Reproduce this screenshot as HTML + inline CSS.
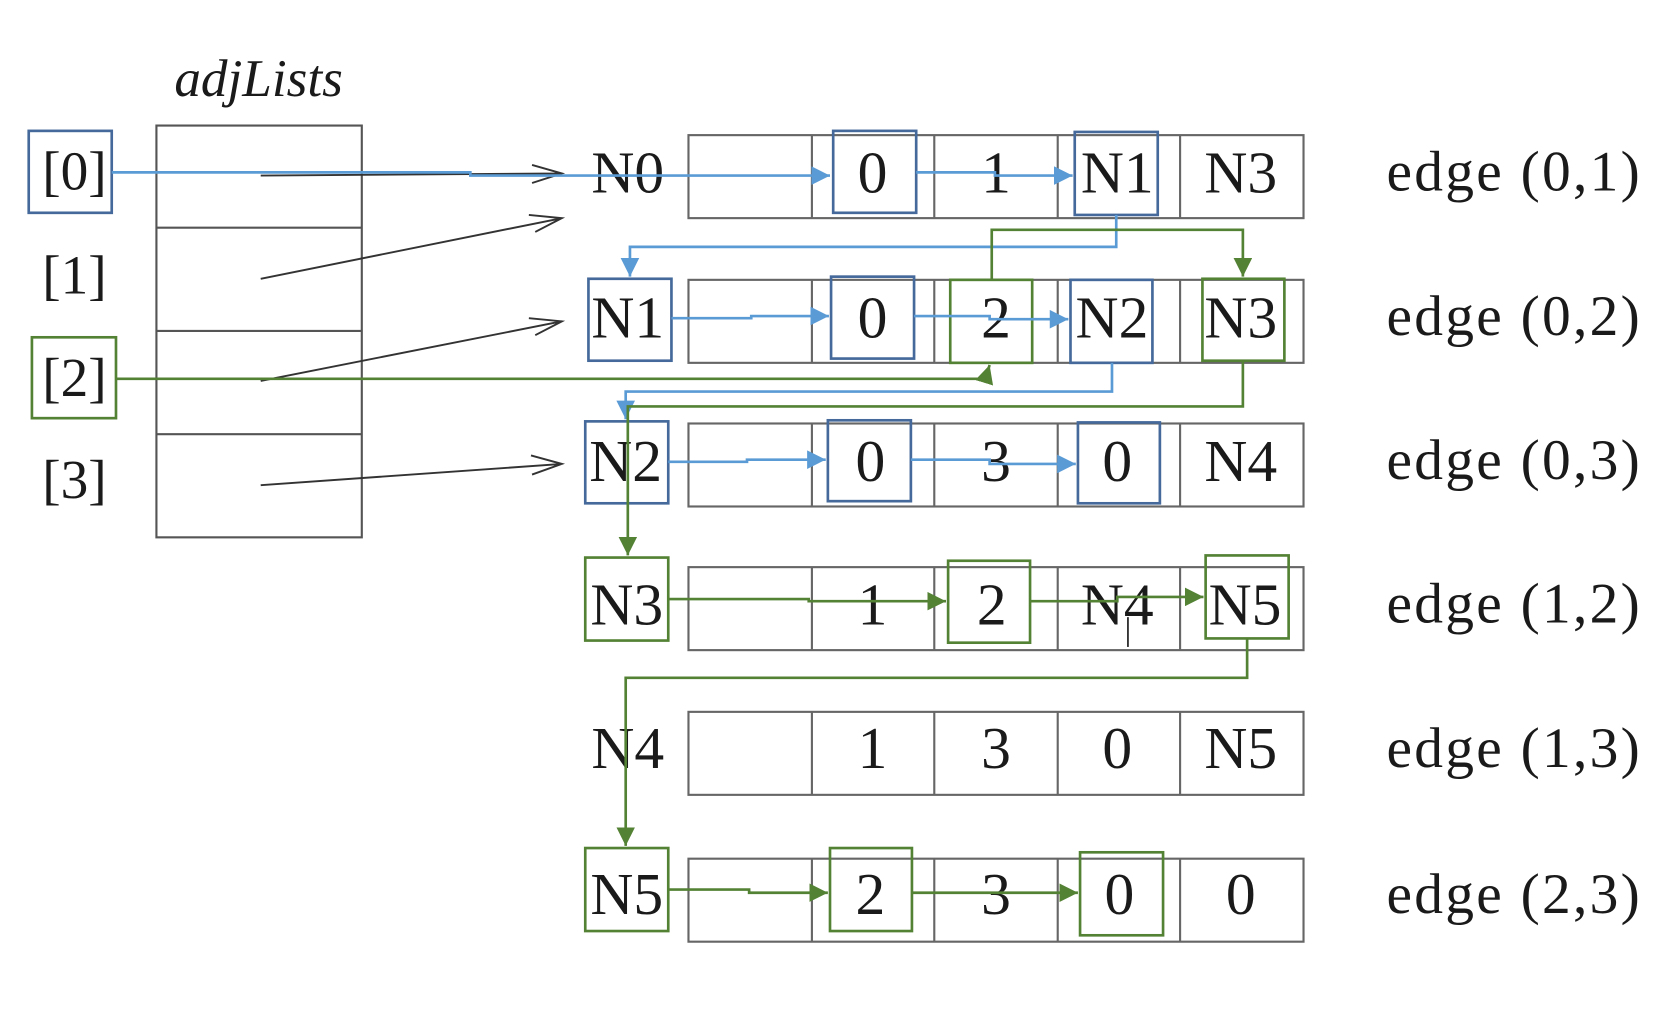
<!DOCTYPE html>
<html><head><meta charset="utf-8"><style>
html,body{margin:0;padding:0;background:#fff;width:1660px;height:1030px;overflow:hidden}
svg text{font-family:"Liberation Serif",serif;fill:#1a1a1a}
</style></head><body>
<svg width="1660" height="1030" viewBox="0 0 1560 968" preserveAspectRatio="none" xmlns="http://www.w3.org/2000/svg">
<defs>
<marker id="ab" viewBox="0 0 10 10" refX="10" refY="5" markerWidth="7" markerHeight="7" orient="auto"><path d="M0,0L10,5L0,10z" fill="#5b9bd5"/></marker>
<marker id="ag" viewBox="0 0 10 10" refX="10" refY="5" markerWidth="7" markerHeight="7" orient="auto"><path d="M0,0L10,5L0,10z" fill="#548235"/></marker>
<g id="t"><rect x="647" y="0" width="578" height="78"/><line x1="763" y1="0" x2="763" y2="78"/><line x1="878" y1="0" x2="878" y2="78"/><line x1="994" y1="0" x2="994" y2="78"/><line x1="1109" y1="0" x2="1109" y2="78"/></g>
</defs>
<text x="243" y="90" font-size="50" font-style="italic" text-anchor="middle">adjLists</text>
<g fill="none" stroke="#555" stroke-width="2">
<rect x="147" y="118" width="193" height="387"/>
<line x1="147" y1="214" x2="340" y2="214"/><line x1="147" y1="311" x2="340" y2="311"/><line x1="147" y1="408" x2="340" y2="408"/>
</g>
<g font-size="52" text-anchor="middle">
<text x="70" y="178">[0]</text><text x="70" y="276">[1]</text><text x="70" y="372">[2]</text><text x="70" y="468">[3]</text>
</g>
<g fill="none" stroke="#333" stroke-width="1.8">
<path d="M245,165L528,163M500,155L528,163L500,172"/>
<path d="M245,262L528,205M497,202L528,205L503,218"/>
<path d="M245,358L528,302M497,299L528,302L503,315"/>
<path d="M245,456L528,436M499,428L528,436L500,446"/>
</g>
<g fill="none" stroke="#666" stroke-width="2">
<use href="#t" y="127"/><use href="#t" y="263"/><use href="#t" y="398"/><use href="#t" y="533"/><use href="#t" y="669"/><use href="#t" y="807"/>
</g>
<g font-size="56" text-anchor="middle">
<text x="590" y="181">N0</text><text x="820" y="181">0</text><text x="936" y="181">1</text><text x="1050" y="181">N1</text><text x="1166" y="181">N3</text>
<text x="590" y="317">N1</text><text x="820" y="317">0</text><text x="936" y="317">2</text><text x="1045" y="317">N2</text><text x="1166" y="317">N3</text>
<text x="588" y="452">N2</text><text x="818" y="452">0</text><text x="936" y="452">3</text><text x="1050" y="452">0</text><text x="1166" y="452">N4</text>
<text x="589" y="587">N3</text><text x="820" y="587">1</text><text x="932" y="587">2</text><text x="1050" y="587">N4</text><text x="1170" y="587">N5</text>
<text x="590" y="722">N4</text><text x="820" y="722">1</text><text x="936" y="722">3</text><text x="1050" y="722">0</text><text x="1166" y="722">N5</text>
<text x="589" y="859">N5</text><text x="818" y="859">2</text><text x="936" y="859">3</text><text x="1052" y="859">0</text><text x="1166" y="859">0</text>
</g>
<g font-size="54">
<text x="1303" y="179" textLength="238">edge (0,1)</text><text x="1303" y="315" textLength="238">edge (0,2)</text><text x="1303" y="450" textLength="238">edge (0,3)</text>
<text x="1303" y="585" textLength="238">edge (1,2)</text><text x="1303" y="721" textLength="238">edge (1,3)</text><text x="1303" y="858" textLength="238">edge (2,3)</text>
</g>
<line x1="1060" y1="580" x2="1060" y2="608" stroke="#111" stroke-width="1.5"/>
<g fill="none" stroke="#44699a" stroke-width="2.5">
<rect x="27" y="123" width="78" height="77"/><rect x="783" y="123" width="78" height="77"/><rect x="1010" y="124" width="78" height="78"/>
<rect x="553" y="262" width="78" height="77"/><rect x="781" y="260" width="78" height="77"/><rect x="1006" y="263" width="77" height="78"/>
<rect x="550" y="396" width="78" height="77"/><rect x="778" y="395" width="78" height="76"/><rect x="1013" y="397" width="77" height="76"/>
</g>
<g fill="none" stroke="#548235" stroke-width="2.5">
<rect x="30" y="317" width="79" height="76"/><rect x="893" y="263" width="77" height="78"/><rect x="1130" y="262" width="77" height="77"/>
<rect x="550" y="524" width="78" height="78"/><rect x="891" y="527" width="77" height="77"/><rect x="1133" y="522" width="78" height="78"/>
<rect x="550" y="797" width="78" height="78"/><rect x="780" y="797" width="77" height="78"/><rect x="1015" y="801" width="78" height="78"/>
</g>
<g fill="none" stroke="#5b9bd5" stroke-width="2.5" marker-end="url(#ab)">
<path d="M105,162H442V165H780"/>
<path d="M861,162H935V165H1008"/>
<path d="M1049,202V232H592V260"/>
<path d="M631,299H706V297H779"/>
<path d="M859,297H930V300H1004"/>
<path d="M1045,341V368H588V394"/>
<path d="M628,434H702V432H776"/>
<path d="M856,432H930V436H1011"/>
</g>
<g fill="none" stroke="#548235" stroke-width="2.5" marker-end="url(#ag)">
<path d="M109,356H926L930,343"/>
<path d="M932,263V216H1168V260"/>
<path d="M1168,339V382H590V522"/>
<path d="M628,563H760V565H889"/>
<path d="M968,565H1050V561H1131"/>
<path d="M1172,600V637H588V795"/>
<path d="M628,836H704V839H778"/>
<path d="M857,839H1013"/>
</g>
</svg>
</body></html>
